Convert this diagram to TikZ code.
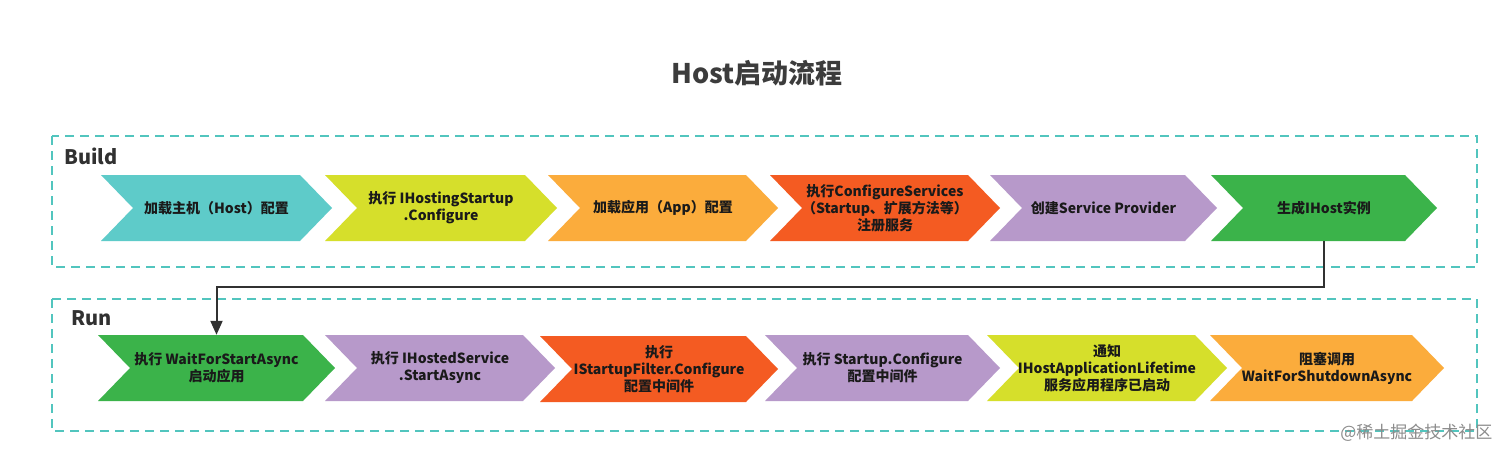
\documentclass[tikz,border=0pt]{standalone}
\usepackage{fontspec}
\setmainfont{Noto Sans CJK SC}
\usetikzlibrary{arrows.meta,calc}
\definecolor{teal1}{HTML}{5ECBC9}
\definecolor{lime1}{HTML}{D6DF2B}
\definecolor{orange1}{HTML}{FBAC3C}
\definecolor{red1}{HTML}{F45B22}
\definecolor{purple1}{HTML}{B799CA}
\definecolor{green1}{HTML}{3BB34A}
\definecolor{dash1}{HTML}{52C5BE}
\definecolor{ink}{HTML}{1A1A1A}
\tikzset{
  groupbox/.style={draw=dash1, line width=1.6pt, dash pattern=on 9pt off 6pt},
  grouplabel/.style={font=\bfseries\fontsize{20}{22}\selectfont, text=ink!90, anchor=west, inner sep=0pt},
  chevtext/.style={font=\bfseries\fontsize{14}{17}\selectfont, text=ink, align=center, inner sep=0pt},
  conn/.style={draw=ink!90, line width=2pt, -{Triangle[length=14pt,width=12pt]}},
}
% #1 name, #2 left x, #3 center y, #4 width, #5 colour, #6 text
\newcommand\chevbox[6]{%
  \fill[#5] (#2,#3+33) -- ++(#4-32,0) -- ++(32,-33) -- ++(-32,-33) -- ++(-#4+32,0) -- ++(32,33) -- cycle;
  \node[chevtext, minimum width=#4pt, minimum height=66pt] (#1) at (#2+#4/2,#3) {#6};
}
\begin{document}
\begin{tikzpicture}[x=1pt,y=-1pt]
\useasboundingbox (0,0) rectangle (1512,458);
\fill[white] (0,0) rectangle (1512,458);
% title
\node[font=\bfseries\fontsize{27}{30}\selectfont, text=ink!85] (title) at (757,73) {Host启动流程};
% group boxes
\draw[groupbox] (52,136) rectangle (1477,267);
\draw[groupbox] (52,299) rectangle (1477,431);
\node[grouplabel] (buildlbl) at (64,156) {Build};
\node[grouplabel] (runlbl) at (71,318) {Run};
% build row
\chevbox{b1}{101}{208}{231}{teal1}{加载主机（Host）配置}
\chevbox{b2}{325}{208}{232}{lime1}{执行 IHostingStartup\\.Configure}
\chevbox{b3}{548}{208}{230}{orange1}{加载应用（App）配置}
\chevbox{b4}{770}{208}{230}{red1}{执行ConfigureServices\\（Startup、扩展方法等）\\注册服务}
\chevbox{b5}{990}{208}{227}{purple1}{创建Service Provider}
\chevbox{b6}{1211}{208}{226}{green1}{生成IHost实例}
% run row
\chevbox{r1}{98}{368}{237}{green1}{执行 WaitForStartAsync\\启动应用}
\chevbox{r2}{325}{368}{230}{purple1}{执行 IHostedService\\.StartAsync}
\chevbox{r3}{540}{369}{238}{red1}{执行\\IStartupFilter.Configure\\配置中间件}
\chevbox{r4}{765}{368}{235}{purple1}{执行 Startup.Configure\\配置中间件}
\chevbox{r5}{987}{368}{240}{lime1}{通知\\IHostApplicationLifetime\\服务应用程序已启动}
\chevbox{r6}{1210}{368}{234}{orange1}{阻塞调用\\WaitForShutdownAsync}
% connector
\coordinate (turn) at (0,287);
\draw[conn] (b6.south) -- (b6.south |- turn) -| (r1.north);
\node[font=\fontsize{17}{19}\selectfont, text=black!45, anchor=east] (site) at (1496,433) {@稀土掘金技术社区};
\end{tikzpicture}
\end{document}
